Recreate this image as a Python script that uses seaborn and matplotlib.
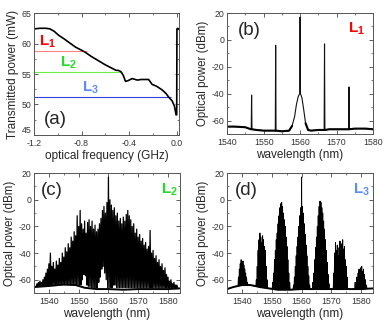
import numpy as np
import pandas as pd
import matplotlib.pyplot as plt
import seaborn as sns
from matplotlib.ticker import MultipleLocator

# ---- (a) transmitted power vs optical frequency ----
a_ghz = [-1.2, -1.15, -1.1, -1.066, -1.03, -0.996, -0.95, -0.9, -0.85, -0.8,
         -0.772, -0.72, -0.66, -0.6, -0.55, -0.51, -0.493, -0.47, -0.45, -0.431,
         -0.41, -0.375, -0.33, -0.3, -0.27, -0.236, -0.207, -0.17, -0.123, -0.09,
         -0.067, -0.039, -0.02, -0.011, -0.005, 0.0, 0.002, 0.008, 0.02]
a_mw = [62.4, 62.5, 62.5, 62.4, 62.0, 61.4, 60.8, 60.1, 59.4, 58.9,
        58.6, 57.9, 57.2, 56.5, 56.0, 55.6, 55.6, 55.4, 54.8, 53.8,
        53.9, 54.25, 54.0, 54.1, 54.1, 54.1, 53.3, 53.0, 52.4, 51.8,
        51.2, 50.6, 49.8, 48.9, 48.3, 48.3, 62.4, 62.5, 62.3]

level_names = ['1', '2', '3']
level_mw = [58.7, 55.3, 51.2]
level_end_ghz = [-0.758, -0.459, -0.044]
level_line_colors = ['#ff8080', '#66ee44', '#2f3fd8']
level_text_colors = ['#ff0000', '#22dd22', '#5b8cff']

# ---- (b) spectrum at L1 ----
b_nm = [1540, 1542, 1544, 1545, 1546, 1546.6, 1546.7, 1546.8, 1548, 1550,
        1552, 1553.2, 1553.3, 1553.4, 1555, 1557, 1557.8, 1558.5, 1559, 1559.5,
        1559.9, 1560, 1560.1, 1560.5, 1561, 1561.5, 1562.2, 1563, 1565, 1566.6,
        1566.7, 1566.8, 1568, 1570, 1573.3, 1573.4, 1573.5, 1575, 1578, 1580]
b_db = [-64.5, -64.5, -64.8, -65, -66, -66.5, -41, -66.5, -67, -67.5,
        -67.5, -67.5, -4, -67.5, -68, -67.5, -64, -57, -48, -42,
        -40, 17, -40, -43, -52, -62, -67, -67.5, -67, -67,
        -3, -67, -66.5, -66.5, -66.5, -35, -66.5, -66, -66, -66.5]

# ---- (c) spectrum at L2: comb lines (top / bottom) and noise floor ----
c_nm = list(np.arange(1536.0, 1583.5, 0.5))
c_top = [-63, -62, -61, -62, -60, -58, -55, -52, -48, -40,
         -50, -47, -52, -46, -49, -44, -47, -40, -43, -36,
         -39, -33, -36, -28, -31, -24, -27, -12, -20, -8,
         -18, -22, -16, -25, -17, -15, -20, -16, -22, -19,
         -24, -22, -18, -14, -8, -5, -10, -2, 17, 0,
         -4, -8, -6, -12, -10, -16, -14, -18, -13, -16,
         -11, -8, -12, -15, -20, -18, -25, -22, -28, -26,
         -31, -29, -34, -32, -37, -35, -23, -40, -38, -44,
         -42, -47, -45, -50, -48, -53, -51, -56, -58, -61,
         -60, -63, -62, -64, -64]
c_bot = [-65, -65, -65, -65, -65, -65, -65, -65, -64, -64,
         -64, -64, -64, -64, -64, -64, -64, -64, -64, -64,
         -64, -64, -64, -64, -64, -64, -64, -64, -64, -64,
         -60, -56, -54, -57, -64, -65, -65, -66, -66, -66,
         -66, -62, -58, -52, -48, -50, -55, -60, -66, -66,
         -66, -64, -62, -64, -66, -66, -66, -66, -66, -66,
         -66, -66, -66, -66, -66, -66, -66, -66, -66, -66,
         -66, -66, -66, -66, -66, -66, -66, -66, -66, -66,
         -66, -66, -66, -66, -66, -66, -66, -66, -66, -66,
         -66, -66, -66, -66, -66]
c_floor_nm = [1535, 1538, 1541, 1545, 1549, 1552, 1556, 1560, 1565, 1570, 1575, 1580, 1584]
c_floor_db = [-65.5, -65, -64.5, -63.5, -64, -66, -67, -67, -67.5, -67, -67, -67, -66.5]

# ---- (d) spectrum at L3: comb clusters and noise floor ----
d_nm = [1538.8, 1539.1, 1539.4, 1539.7, 1540.0, 1540.3, 1540.6, 1540.9, 1541.2, 1541.5, 1541.8,
        1544.8, 1545.1, 1545.4, 1545.7, 1546.0, 1546.3, 1546.6, 1546.9, 1547.2, 1547.5, 1547.8, 1548.1, 1548.4,
        1550.3, 1550.6, 1550.9, 1551.2, 1551.5, 1551.8, 1552.1, 1552.4, 1552.7, 1553.0,
        1553.3, 1553.6, 1553.9, 1554.2, 1554.5, 1554.8, 1555.1, 1555.4, 1555.7, 1556.0,
        1557.3, 1557.6, 1557.9, 1558.2, 1558.5, 1558.8, 1559.1, 1559.4, 1559.7, 1560.0,
        1560.3, 1560.6, 1560.9, 1561.2, 1561.5, 1561.8, 1562.1, 1562.4, 1562.7,
        1563.8, 1564.1, 1564.4, 1564.7, 1565.0, 1565.3, 1565.6, 1565.9, 1566.2, 1566.5,
        1566.8, 1567.1, 1567.4, 1567.7, 1568.0, 1568.3, 1568.6, 1568.9, 1569.2,
        1570.8, 1571.1, 1571.4, 1571.7, 1572.0, 1572.3, 1572.6, 1572.9, 1573.2, 1573.5,
        1573.8, 1574.1, 1574.4, 1574.7, 1575.0, 1575.3,
        1578.0, 1578.5, 1579.0, 1579.3, 1579.6, 1579.9, 1580.2, 1580.5, 1580.8, 1581.1, 1581.4, 1581.8]
d_top = [-58, -52, -48, -45, -50, -46, -49, -52, -55, -58, -62,
         -60, -50, -38, -30, -25, -28, -32, -27, -30, -35, -38, -50, -60,
         -62, -55, -45, -38, -30, -25, -18, -12, -6, -3,
         -2, -5, -10, -15, -20, -28, -35, -45, -55, -62,
         -64, -58, -50, -42, -35, -28, -20, -12, -6, 17,
         -5, -10, -18, -26, -34, -42, -50, -57, -64,
         -62, -55, -45, -36, -28, -20, -12, -5, -1, -2,
         -6, -10, -16, -22, -30, -38, -47, -56, -63,
         -55, -40, -32, -38, -34, -42, -36, -31, -38, -33,
         -30, -37, -35, -45, -50, -58,
         -62, -58, -55, -52, -56, -51, -50, -54, -52, -56, -60, -64]
d_floor_nm = [1535, 1537, 1540, 1543, 1546, 1549, 1552, 1556, 1560, 1564, 1568, 1572, 1576, 1580, 1584]
d_floor_db = [-67, -65.5, -64, -64, -65.5, -66.5, -67.5, -67.5, -67, -67, -67, -67, -67, -67, -66.5]


def comb_frame(nm, top, bot, half=0.2):
    # each comb line drawn as a narrow spike rising from its local floor
    xs, ys = [], []
    for w, t, b in zip(nm, top, bot):
        xs += [w - half, w, w + half]
        ys += [b, t, b]
    return pd.DataFrame({'nm': xs, 'db': ys})


def style_axes(ax):
    ax.tick_params(which='both', direction='in', top=True, right=True,
                   labelsize=6.3, colors='#444444', labelcolor='#333333')
    ax.tick_params(axis='y', which='both', pad=2)
    ax.tick_params(axis='x', which='both', pad=3)
    ax.tick_params(which='major', length=3, width=0.6)
    ax.tick_params(which='minor', length=1.5, width=0.5)
    for s in ax.spines.values():
        s.set_color('#555555')
        s.set_linewidth(0.7)


def spectrum_axes(ax, xlim):
    ax.set_xlim(*xlim)
    ax.set_ylim(-70, 20)
    ax.set_xticks([1540, 1550, 1560, 1570, 1580])
    ax.set_yticks([-60, -40, -20, 0, 20])
    ax.xaxis.set_minor_locator(MultipleLocator(5))
    ax.yaxis.set_minor_locator(MultipleLocator(10))
    ax.set_xlabel('wavelength (nm)', fontsize=8.5, labelpad=1)
    ax.set_ylabel('Optical power (dBm)', fontsize=8.3, labelpad=2)
    style_axes(ax)


def l_label(i):
    return r'$\mathbf{L}_\mathbf{' + level_names[i] + '}$'


sns.set_style('ticks')
plt.rcParams['font.family'] = ['Liberation Sans', 'DejaVu Sans']
plt.rcParams['axes.unicode_minus'] = False
plt.rcParams['mathtext.fontset'] = 'custom'
plt.rcParams['mathtext.rm'] = 'Liberation Sans'
plt.rcParams['mathtext.bf'] = 'Liberation Sans:bold'

fig = plt.figure(figsize=(3.91, 3.26), dpi=100)
ax_a = fig.add_axes([0.087, 0.586, 0.371, 0.374])
ax_b = fig.add_axes([0.581, 0.589, 0.373, 0.371])
ax_c = fig.add_axes([0.087, 0.101, 0.373, 0.368])
ax_d = fig.add_axes([0.581, 0.101, 0.373, 0.368])

# (a)
for i in range(3):
    ax_a.hlines(level_mw[i], -1.2, level_end_ghz[i], color=level_line_colors[i], lw=0.8)
sns.lineplot(x=a_ghz, y=a_mw, ax=ax_a, color='black', lw=1.2, sort=False, estimator=None)
ax_a.set_xlim(-1.2, 0.02)
ax_a.set_ylim(45, 65)
ax_a.set_xticks([-1.2, -0.8, -0.4, 0.0])
ax_a.set_xticklabels(['-1.2', '-0.8', '-0.4', '0.0'])
ax_a.set_yticks([45, 50, 55, 60, 65])
ax_a.xaxis.set_minor_locator(MultipleLocator(0.2))
ax_a.yaxis.set_minor_locator(MultipleLocator(2.5))
ax_a.set_xlabel('optical frequency (GHz)', fontsize=8.5, labelpad=1)
ax_a.set_ylabel('Transmitted power (mW)', fontsize=8.5, labelpad=2)
style_axes(ax_a)
ax_a.get_yticklabels()[0].set_va('bottom')
label_xy = [(-1.155, 58.9), (-0.985, 55.5), (-0.80, 51.4)]
for i in range(3):
    ax_a.text(*label_xy[i], l_label(i), color=level_text_colors[i], fontsize=11,
              ha='left', va='bottom')
ax_a.text(0.07, 0.06, '(a)', transform=ax_a.transAxes, fontsize=13.5, ha='left', va='bottom')

# (b): thin trace for the narrow lines, heavier stroke for the noise floor
sns.lineplot(x=b_nm, y=b_db, ax=ax_b, color='#111111', lw=0.8, sort=False, estimator=None)
b_floor = np.where(np.array(b_db) < -60, b_db, np.nan)
ax_b.plot(b_nm, b_floor, color='black', lw=1.5)
spectrum_axes(ax_b, (1540, 1580))
ax_b.text(0.07, 0.93, '(b)', transform=ax_b.transAxes, fontsize=13.5, ha='left', va='top')
ax_b.text(0.83, 0.80, l_label(0), transform=ax_b.transAxes, color=level_text_colors[0],
          fontsize=11, ha='left', va='bottom')

# (c)
df_c = comb_frame(c_nm, c_top, c_bot, half=0.25)
sns.lineplot(data=df_c, x='nm', y='db', ax=ax_c, color='black', lw=0.9,
             sort=False, estimator=None)
sns.lineplot(x=c_floor_nm, y=c_floor_db, ax=ax_c, color='black', lw=1.4, estimator=None)
spectrum_axes(ax_c, (1535, 1584))
ax_c.text(0.05, 0.93, '(c)', transform=ax_c.transAxes, fontsize=13.5, ha='left', va='top')
ax_c.text(0.87, 0.79, l_label(1), transform=ax_c.transAxes, color=level_text_colors[1],
          fontsize=11, ha='left', va='bottom')

# (d)
d_bot = [float(np.interp(w, d_floor_nm, d_floor_db)) for w in d_nm]
df_d = comb_frame(d_nm, d_top, d_bot, half=0.16)
sns.lineplot(data=df_d, x='nm', y='db', ax=ax_d, color='black', lw=0.7,
             sort=False, estimator=None)
sns.lineplot(x=d_floor_nm, y=d_floor_db, ax=ax_d, color='black', lw=1.4, estimator=None)
spectrum_axes(ax_d, (1535, 1584))
ax_d.text(0.05, 0.93, '(d)', transform=ax_d.transAxes, fontsize=13.5, ha='left', va='top')
ax_d.text(0.86, 0.79, l_label(2), transform=ax_d.transAxes, color=level_text_colors[2],
          fontsize=11, ha='left', va='bottom')

fig.savefig('out.png', dpi=100)
